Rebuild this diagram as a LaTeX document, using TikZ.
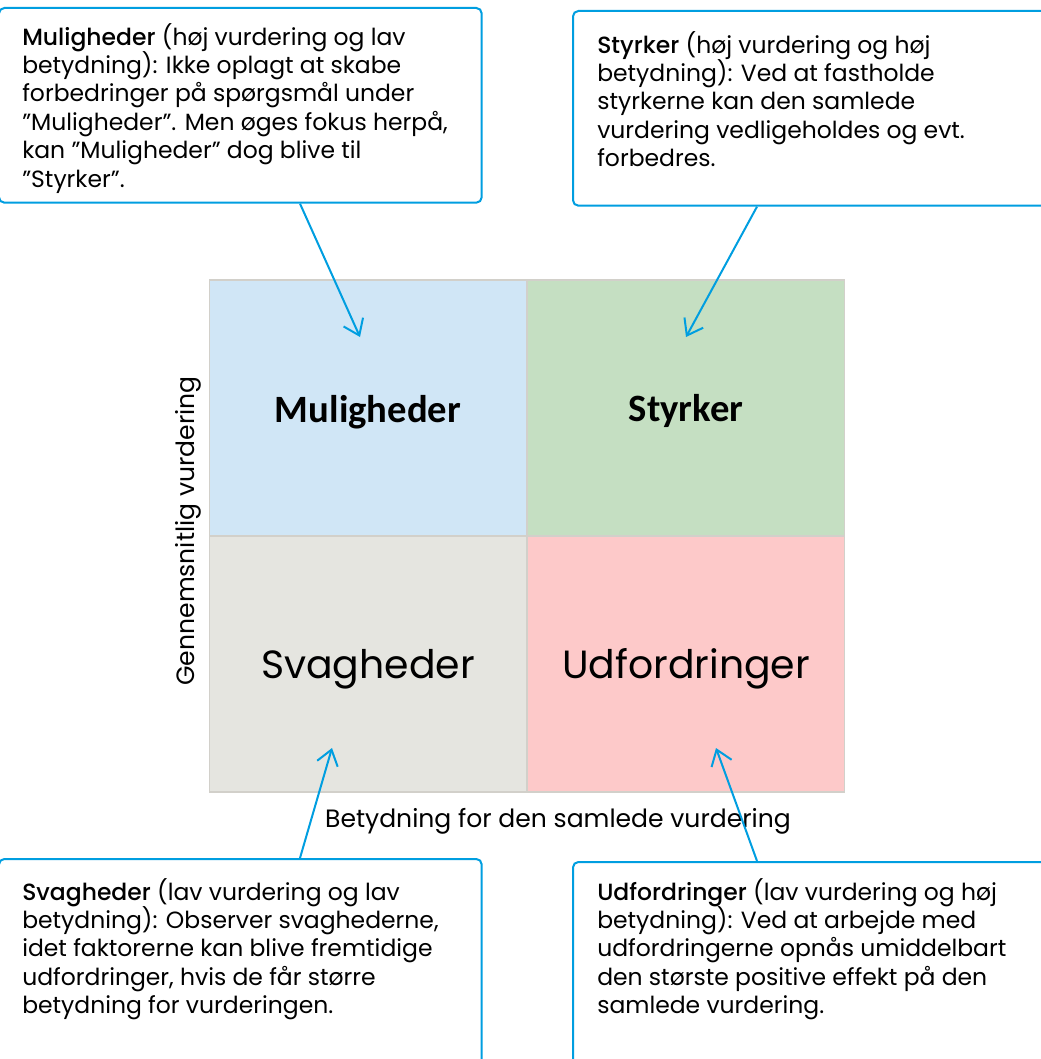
\documentclass[tikz,border=0pt]{standalone}
\usepackage{fontspec}
\setmainfont{Poppins}[BoldFont={Poppins Medium}]
\newfontfamily\quadfont{Carlito}
\usetikzlibrary{arrows.meta, positioning, calc}
\definecolor{callblue}{RGB}{0, 158, 224}
\definecolor{mulfill}{RGB}{208, 230, 246}
\definecolor{styfill}{RGB}{197, 223, 194}
\definecolor{svafill}{RGB}{229, 229, 224}
\definecolor{udffill}{RGB}{253, 201, 201}
\definecolor{gridline}{RGB}{210, 208, 202}

\begin{document}
\begin{tikzpicture}[x=0.75pt, y=-0.75pt,
  callout/.style={draw=callblue, line width=1.5pt, rounded corners=4pt, fill=white,
    minimum width=362pt, minimum height=146pt, anchor=north west, inner sep=0pt},
  calltext/.style={anchor=north west, align=left, inner sep=0pt,
    font=\fontsize{17.6}{21.3}\selectfont},
  quad/.style={draw=gridline, line width=1pt, minimum width=238pt, minimum height=192pt,
    inner sep=0pt},
  toplabel/.style={font=\quadfont\bfseries\fontsize{29}{34}\selectfont},
  lowlabel/.style={font=\fontsize{29.5}{34}\selectfont},
  pointer/.style={draw=callblue, line width=1.5pt, -{Straight Barb[length=11pt, width=16pt]}},
  axislabel/.style={font=\fontsize{18.8}{22}\selectfont}]
  \useasboundingbox (0, 0) rectangle (1041, 1059);
  \clip (0, 0) rectangle (1041, 1059);

  % quadrants
  \node[quad, fill=mulfill] (mul) at (368, 408) {};
  \node[quad, fill=styfill] (sty) at (686, 408) {};
  \node[quad, fill=svafill] (sva) at (368, 664) {};
  \node[quad, fill=udffill] (udf) at (686, 664) {};
  \node[toplabel] (multitle) at ($(mul)+(0, 4)$) {Muligheder};
  \node[toplabel] (stytitle) at ($(sty)+(0, 3)$) {Styrker};
  \node[lowlabel] (svatitle) at ($(sva)+(0, 5)$) {Svagheder};
  \node[lowlabel] (udftitle) at ($(udf)+(0, 5)$) {Udfordringer};

  % axes
  \node[axislabel, rotate=90] (ylab) at (188, 531) {Gennemsnitlig vurdering};
  \node[axislabel] (xlab) at (558, 821) {Betydning for den samlede vurdering};

  % callout boxes
  \node[callout] (mulbox) at (-2, 7) {};
  \node[callout, minimum width=375pt] (stybox) at (572, 10) {};
  \node[callout, minimum height=188pt] (svabox) at (-2, 858) {};
  \node[callout, minimum width=375pt, minimum height=188pt] (udfbox) at (572, 861) {};

  \node[calltext] (multext) at ($(mulbox.north west)+(24, 16)$) {\textbf{Muligheder} (høj vurdering og lav\\
    betydning): Ikke oplagt at skabe\\ forbedringer på spørgsmål under\\
    ”Muligheder”. Men øges fokus herpå,\\ kan ”Muligheder” dog blive til\\ ”Styrker”.};
  \node[calltext] (stytext) at ($(stybox.north west)+(25, 21)$) {\textbf{Styrker} (høj vurdering og høj\\
    betydning): Ved at fastholde\\ styrkerne kan den samlede\\
    vurdering vedligeholdes og evt.\\ forbedres.};
  \node[calltext] (svatext) at ($(svabox.north west)+(24, 20)$) {\textbf{Svagheder} (lav vurdering og lav\\
    betydning): Observer svaghederne,\\ idet faktorerne kan blive fremtidige\\
    udfordringer, hvis de får større\\ betydning for vurderingen.};
  \node[calltext] (udftext) at ($(udfbox.north west)+(25, 17)$) {\textbf{Udfordringer} (lav vurdering og høj\\
    betydning): Ved at arbejde med\\ udfordringerne opnås umiddelbart\\
    den største positive effekt på den\\ samlede vurdering.};

  % pointers
  \coordinate (multip) at (360, 337);
  \coordinate (stytip) at (686, 337);
  \coordinate (svatip) at (332, 748);
  \coordinate (udftip) at (716, 748);
  \draw[pointer] ($(mulbox.south west)+(302, 0)$) -- (multip);
  \draw[pointer] ($(stybox.south west)+(185, 0)$) -- (stytip);
  \draw[pointer] ($(svabox.north west)+(302, 0)$) -- (svatip);
  \draw[pointer] ($(udfbox.north west)+(185, 0)$) -- (udftip);
\end{tikzpicture}
\end{document}
